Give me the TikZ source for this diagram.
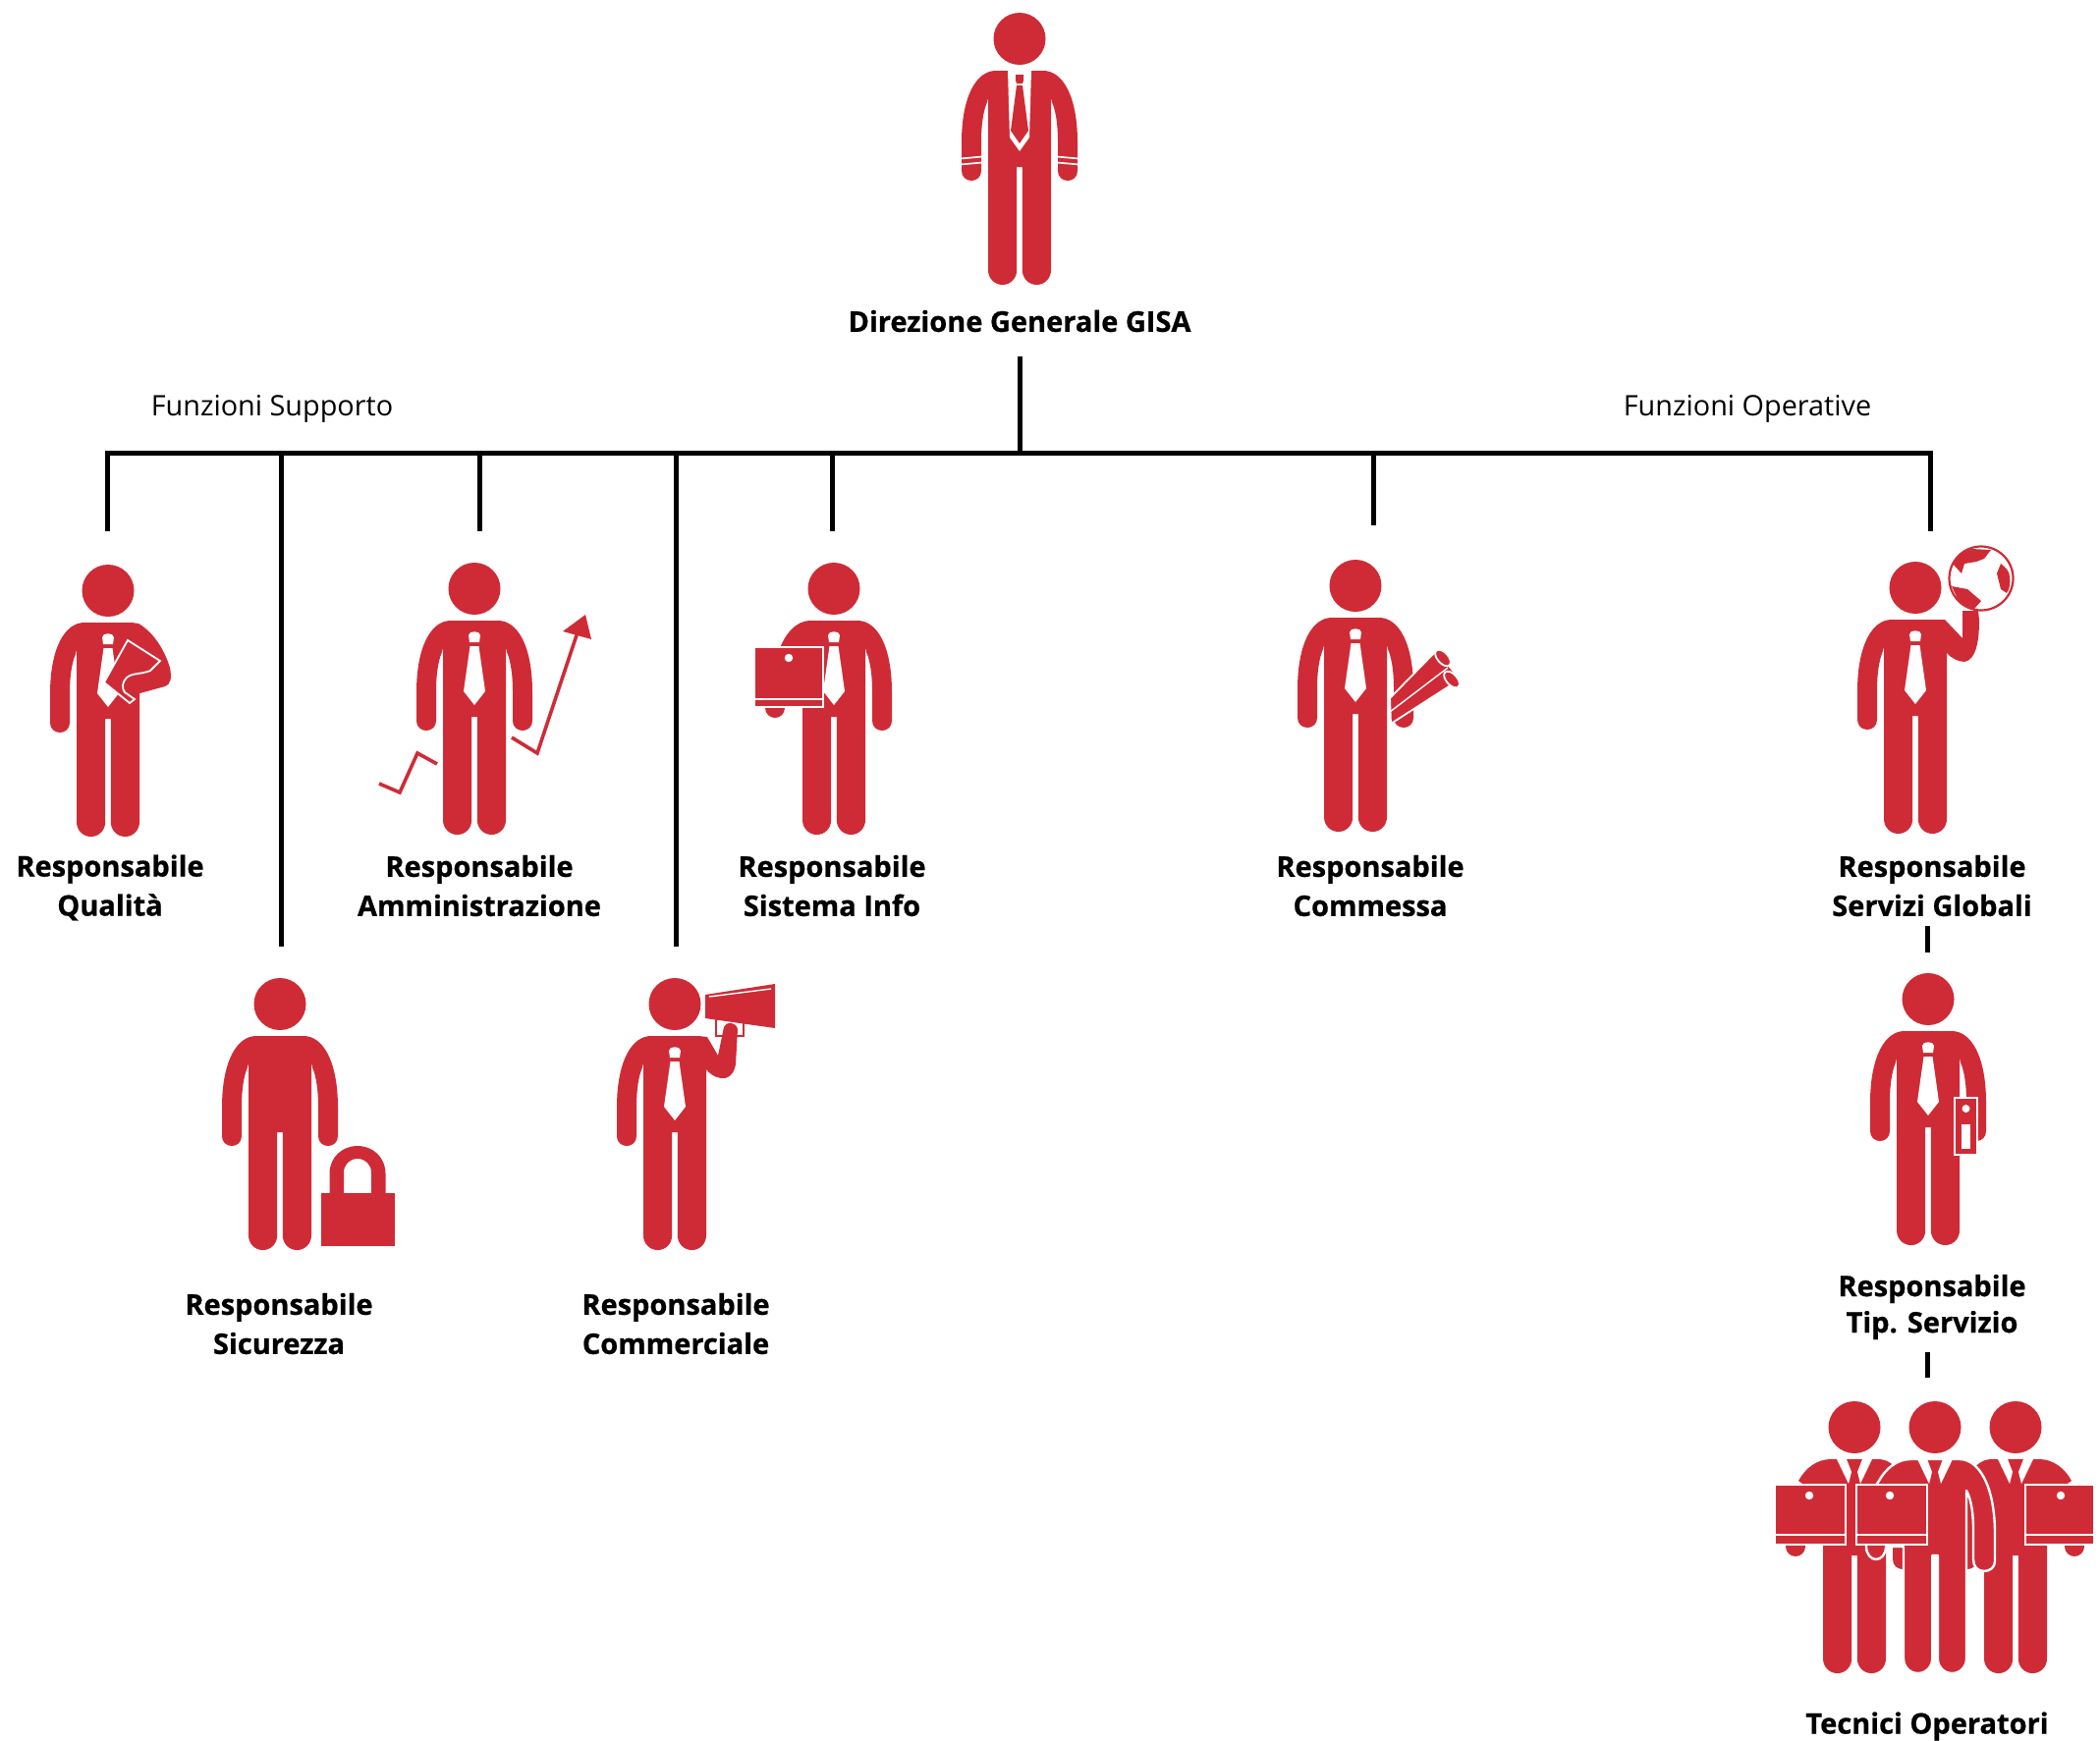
\documentclass[tikz,border=0pt]{standalone}
\usepackage{fontspec}
\setmainfont{Open Sans}
\newfontfamily\labfont{Open Sans}[BoldFeatures={FakeBold=0.7}]
\definecolor{fig}{HTML}{CF2B36}
\tikzset{
  x=1pt,y=-1pt,
  conn/.style={draw=black,line width=5pt},
  lab/.style={font=\labfont\fontsize{29}{40}\selectfont\bfseries,align=center,text=black,inner sep=0pt},
  labtight/.style={font=\labfont\fontsize{29}{37}\selectfont\bfseries,align=center,text=black,inner sep=0pt},
  plain/.style={font=\fontsize{28.8}{32}\selectfont,text=black,inner sep=0pt},
  redf/.style={fill=fig,draw=none},
  whf/.style={fill=white,draw=none},
  wbox/.style={fill=fig,draw=white,line width=1.8pt},
}
% head, torso, legs
\newcommand{\bodycore}{%
  \path[redf] (0,26.5) circle [radius=26.5];
  \path[redf] (-25,59) -- (25,59) .. controls (29,59) and (32,66) .. (32,91) -- (32,262)
     .. controls (32,270.5) and (25.5,277) .. (17.4,277) .. controls (9.3,277) and (2.8,270.5) .. (2.8,262)
     -- (2.8,157) -- (-2.8,157) -- (-2.8,262)
     .. controls (-2.8,270.5) and (-9.3,277) .. (-17.4,277) .. controls (-25.5,277) and (-32,270.5) .. (-32,262)
     -- (-32,91) .. controls (-32,66) and (-29,59) .. (-25,59) -- cycle;
}
\newcommand{\armL}{%
  \path[redf] (-24,59) .. controls (-44,59) and (-59,85) .. (-59,132) -- (-59,161)
     .. controls (-59,167) and (-54.5,171) .. (-49,171) .. controls (-43.5,171) and (-39,167) .. (-39,161)
     -- (-39,130) .. controls (-39,115) and (-37,100) .. (-33,91) -- (-28,70) -- cycle;
}
\newcommand{\armR}{%
  \path[redf] (24,59) .. controls (44,59) and (59,85) .. (59,132) -- (59,161)
     .. controls (59,167) and (54.5,171) .. (49,171) .. controls (43.5,171) and (39,167) .. (39,161)
     -- (39,130) .. controls (39,115) and (37,100) .. (33,91) -- (28,70) -- cycle;
}
\newcommand{\whitetie}{%
  \path[whf] (-6,74) .. controls (-6,69) and (6,69) .. (6,74) -- (5,81) -- (-5,81) -- cycle;
  \path[whf] (-4.5,85) -- (4.5,85) -- (11,131) -- (0,145) -- (-11,131) -- cycle;
}
% a hand hanging below a carried laptop, centred on #1
\newcommand{\lowhand}[1]{%
  \path[redf] (#1-10,130) -- (#1+10,130) -- (#1+10,148)
     .. controls (#1+10,154) and (#1+5,158) .. (#1,158) .. controls (#1-5,158) and (#1-10,154) .. (#1-10,148) -- cycle;
}
% a laptop spanning x #1..#2, top #3, bottom #4, line #5, dot x #6
\newcommand{\laptop}[6]{%
  \path[wbox] (#1,#3) rectangle (#2,#4);
  \path[whf] (#6,#3+11) circle [radius=4.2];
  \draw[white,line width=2pt] (#1,#5) -- (#2,#5);
}
\newcommand{\vcollar}{%
  \path[whf] (-18,59) -- (-8,59) -- (-3,72) -- (-6,84) -- cycle;
  \path[whf] (18,59) -- (8,59) -- (3,72) -- (6,84) -- cycle;
}
\newcommand{\person}[3]{%
  \begin{scope}[shift={(#1,#2)}]
  #3
  \end{scope}
}
\begin{document}
\begin{tikzpicture}
\useasboundingbox (0,0) rectangle (2138,1772);
\path[fill=white] (0,0) rectangle (2138,1772);

% ---------- connectors
\coordinate (top) at (1038,363);
\coordinate (hub) at (1038,461);
\coordinate (b0) at (109,461);  \coordinate (e0) at (109,541);
\coordinate (b1) at (286,461);  \coordinate (e1) at (286,964);
\coordinate (b2) at (488,461);  \coordinate (e2) at (488,541);
\coordinate (b3) at (688,461);  \coordinate (e3) at (688,964);
\coordinate (b4) at (847,461);  \coordinate (e4) at (847,541);
\coordinate (b5) at (1398,461); \coordinate (e5) at (1398,535);
\coordinate (b6) at (1965,461); \coordinate (e6) at (1965,541);
\coordinate (s1a) at (1962.5,943);  \coordinate (s1b) at (1962.5,970);
\coordinate (s2a) at (1962.5,1377); \coordinate (s2b) at (1962.5,1403);
\draw[conn] (top) -- (hub);
\draw[conn,line cap=rect] (b0) -- (b6);
\foreach \i in {0,...,6} {\draw[conn] (b\i) -- (e\i);}
\draw[conn] (s1a) -- (s1b);
\draw[conn] (s2a) -- (s2b);

% ---------- CEO
\person{1038}{13}{
  \bodycore \armL \armR
  \path[whf] (-12,59) -- (12,59) -- (10,127) -- (0,141) -- (-10,127) -- cycle;
  \path[redf] (-4,63) -- (4,63) -- (4,69) -- (3,72) -- (-3,72) -- (-4,69) -- cycle;
  \path[redf] (-3,74) -- (3,74) -- (9,120) -- (0,133) -- (-9,120) -- cycle;
  \foreach \s in {-1,1}{
    \draw[white,line width=1.7pt] (\s*60,148.5) -- (\s*38,146.5);
    \draw[white,line width=1.7pt] (\s*60,154.5) -- (\s*38,152.5);
  }
}

% ---------- Qualita
\person{110}{575}{
  \bodycore \armL
  \path[redf] (24,59) -- (31,60) .. controls (45,68) and (57,85) .. (63,105) .. controls (65,115) and (64,122) .. (58,124) -- (25,133) -- (10,120) -- (25,70) -- cycle;
  \whitetie
  \path[wbox] (20,77) -- (53,98) -- (43,108) .. controls (33,112) and (25,110) .. (19,115) .. controls (14,120) and (14,126) .. (17,130) -- (27,137) -- (22,141) -- (-4,120) -- cycle;
}

% ---------- Amministrazione
\person{483}{573}{
  \bodycore \armL \armR \whitetie
  \draw[fig,line width=3.6pt] (-97,225) -- (-76,234) -- (-58,194) -- (-38,205);
  \draw[fig,line width=3.6pt] (38,178) -- (64,194) -- (106,68);
  \path[redf] (113,53) -- (90,70) -- (119,78) -- cycle;
}

% ---------- Sistema info
\person{849}{573}{
  \bodycore \armR
  \path[redf] (-24,59) .. controls (-38,59) and (-50,72) .. (-56,90) -- (-30,100) -- cycle;
  \lowhand{-60}
  \whitetie
  \laptop{-81}{-11}{86}{147}{139}{-46}
}

% ---------- Commessa
\person{1380}{570}{
  \bodycore \armL \armR \whitetie
  \path[wbox] (35,141) -- (83,92) -- (106,122) -- (36,167) -- cycle;
  \draw[white,line width=1.4pt] (35,155) -- (94,110);
  \path[wbox,rotate around={42:(89,100)}] (89,100) ellipse [x radius=5.5,y radius=10];
  \path[wbox,rotate around={42:(98,122)}] (98,122) ellipse [x radius=5.5,y radius=10];
}

% ---------- Servizi Globali
\person{1950}{572}{
  \bodycore \armL
  \path[redf] (24,59) -- (30,59) -- (48,78) -- (48,50) -- (64,50) -- (65,60) .. controls (65,80) and (62,100) .. (50,102) .. controls (44,102) and (36,98) .. (32,93) -- (25,80) -- cycle;
  \whitetie
  \draw[fig,fill=white,line width=2.2pt] (67,17) circle[radius=32.5];
  \path[redf] (38,2) .. controls (44,-6) and (50,-11) .. (57,-13) -- (77,-12) -- (70,-3) -- (62,0) -- (50,2) -- (47,12) -- cycle;
  \path[redf] (87,2) .. controls (92,6) and (96,10) .. (96,15) .. controls (97,22) and (96,28) .. (93,32) -- (87,28) -- (83,12) -- cycle;
  \path[redf] (37,25) -- (53,28) -- (67,40) -- (60,48) .. controls (52,46) and (46,42) .. (43,38) -- cycle;
}

% ---------- Sicurezza
\person{285}{996}{
  \bodycore \armL \armR
  \path[redf] (50.5,222) -- (50.5,199) .. controls (50.5,183) and (63,171) .. (79,171) .. controls (95,171) and (107.5,183) .. (107.5,199)
     -- (107.5,222) -- (93,222) -- (93,198) .. controls (93,190) and (87,184) .. (79,184) .. controls (71,184) and (65,190) .. (65,198) -- (65,222) -- cycle;
  \path[redf] (42,219) rectangle (117,273);
}

% ---------- Commerciale
\person{687}{996}{
  \bodycore \armL
  \path[draw=fig,fill=white,line width=1.6pt] (42,42) rectangle (70,59);
  \path[redf] (24,59) -- (33,60) -- (44,79) -- (50,50) .. controls (52,44) and (62,44) .. (64,52) -- (62,88) .. controls (60,100) and (52,103) .. (47,102) .. controls (40,101) and (35,97) .. (32,93) -- (25,80) -- cycle;
  \whitetie
  \path[redf] (31,17) -- (102,6) -- (102,51) -- (31,41) -- cycle;
  \draw[white,line width=1.4pt] (35,19) -- (98,11);
}

% ---------- Tip. Servizio
\person{1963}{991}{
  \bodycore \armL \armR \whitetie
  \path[wbox] (27,127) rectangle (50,185);
  \path[whf] (38.5,138) circle [radius=4];
  \path[whf] (34,154) rectangle (43,179);
}

% ---------- Tecnici: third, first, middle
\person{2052}{1427}{
  \bodycore \armL
  \path[redf] (24,59) .. controls (38,59) and (50,68) .. (57,81) -- (30,100) -- cycle;
  \lowhand{60}
  \vcollar
  \laptop{10}{80}{85}{146}{136}{46}
}
\person{1888}{1427}{
  \bodycore \armR
  \path[redf] (-24,59) .. controls (-38,59) and (-50,68) .. (-57,81) -- (-30,100) -- cycle;
  \lowhand{-60}
  \vcollar
  \laptop{-81}{-9}{85}{146}{136}{-46}
}
\person{1970}{1427}{
  \path[redf] (0,26.5) circle [radius=26.5];
  \path[fill=fig,draw=white,line width=2.4pt,line join=round] (-25,59) -- (25,59)
     .. controls (44,59) and (61,85) .. (61,135) -- (61,163)
     .. controls (61,169) and (56,173) .. (50,173) .. controls (43,173) and (39,168) .. (39,161)
     -- (39,130) .. controls (39,115) and (37,100) .. (32,91)
     -- (32,262) .. controls (32,270.5) and (25.5,277) .. (17.4,277) .. controls (9.3,277) and (2.8,270.5) .. (2.8,262)
     -- (2.8,157) -- (-2.8,157) -- (-2.8,262)
     .. controls (-2.8,270.5) and (-9.3,277) .. (-17.4,277) .. controls (-25.5,277) and (-32,270.5) .. (-32,262)
     -- (-32,148) -- (-50,148) .. controls (-50,156) and (-55,161) .. (-60,161)
     .. controls (-65,161) and (-70,156) .. (-70,148) -- (-70,100) -- (-57,81)
     .. controls (-50,68) and (-38,59) .. (-25,59) -- cycle;
  \vcollar
  \laptop{-80}{-8}{85}{146}{136}{-46}
}

% ---------- labels
\node[lab] (n0) at (1038,327) {Direzione Generale GISA};
\node[plain] (f1) at (277,416) {Funzioni Supporto};
\node[plain] (f2) at (1779,416) {Funzioni Operative};
\node[lab] (n1) at (112,904) {Responsabile\\Qualità};
\node[lab] (n2) at (488,902) {Responsabile\\Amministrazione};
\node[lab] (n3) at (847,902) {Responsabile\\Sistema Info};
\node[lab] (n4) at (1395,902) {Responsabile\\Commessa};
\node[lab] (n5) at (1967,902) {Responsabile\\Servizi Globali};
\node[lab] (n6) at (284,1348) {Responsabile\\Sicurezza};
\node[lab] (n7) at (688,1348) {Responsabile\\Commerciale};
\node[labtight] (n8) at (1967,1331) {Responsabile\\Tip. Servizio};
\node[lab] (n9) at (1962,1758) {Tecnici Operatori};
\end{tikzpicture}
\end{document}
